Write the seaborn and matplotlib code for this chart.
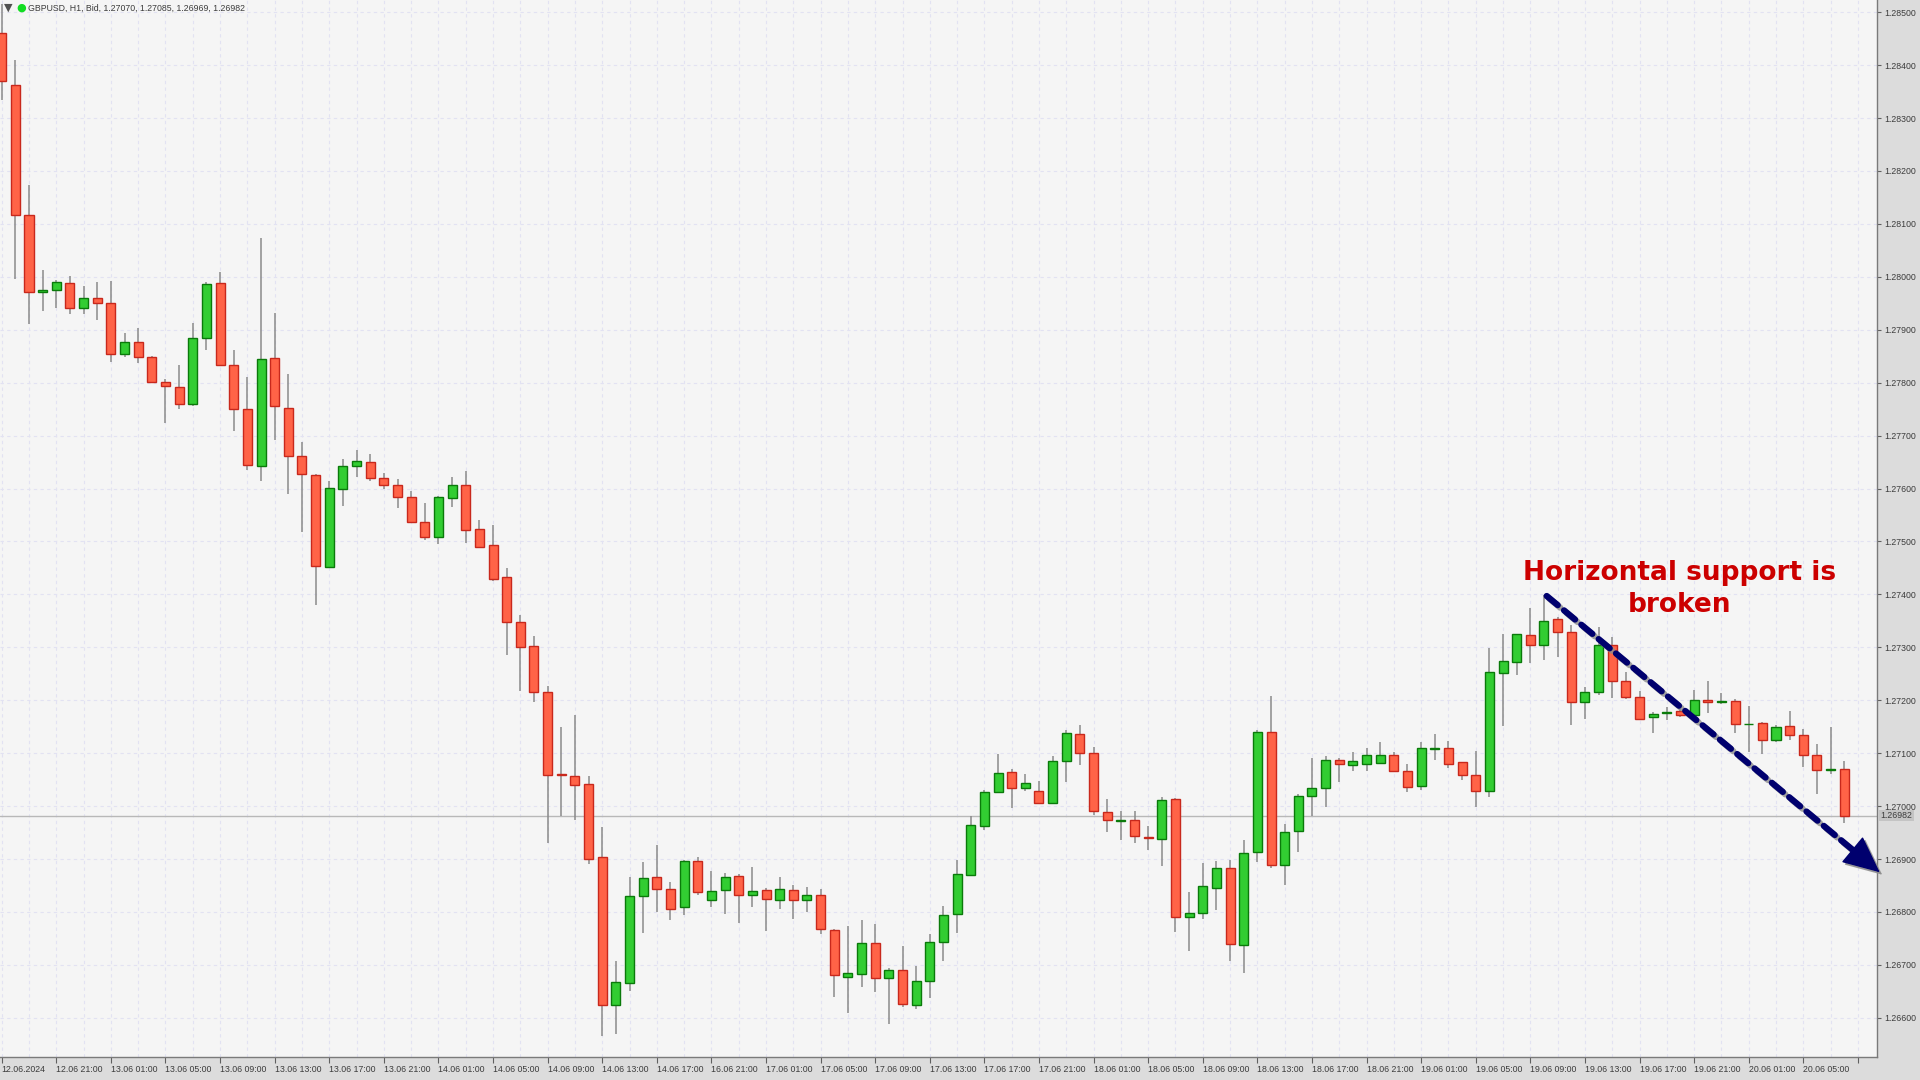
import numpy as np
import pandas as pd
import seaborn as sns
import matplotlib.pyplot as plt
from matplotlib import transforms
from matplotlib.ticker import FixedLocator, MultipleLocator


# hourly GBPUSD bars
open_ = [1.28460, 1.28363, 1.28117, 1.27971, 1.27975, 1.27988, 1.27942, 1.27960, 1.27950, 1.27854,
         1.27876, 1.27849, 1.27802, 1.27791, 1.27760, 1.27884, 1.27988, 1.27834, 1.27751, 1.27642,
         1.27846, 1.27753, 1.27662, 1.27626, 1.27452, 1.27599, 1.27643, 1.27650, 1.27619, 1.27606,
         1.27584, 1.27536, 1.27509, 1.27582, 1.27607, 1.27524, 1.27493, 1.27433, 1.27348, 1.27302,
         1.27216, 1.27060, 1.27057, 1.27042, 1.26904, 1.26625, 1.26666, 1.26830, 1.26866, 1.26844,
         1.26810, 1.26896, 1.26822, 1.26841, 1.26868, 1.26832, 1.26842, 1.26822, 1.26842, 1.26822,
         1.26832, 1.26766, 1.26678, 1.26682, 1.26742, 1.26675, 1.26691, 1.26625, 1.26670, 1.26744,
         1.26796, 1.26870, 1.26962, 1.27026, 1.27064, 1.27034, 1.27029, 1.27005, 1.27086, 1.27136,
         1.27100, 1.26988, 1.26972, 1.26973, 1.26941, 1.26938, 1.27014, 1.26791, 1.26799, 1.26846,
         1.26883, 1.26738, 1.26913, 1.27140, 1.26889, 1.26953, 1.27020, 1.27034, 1.27088, 1.27078,
         1.27080, 1.27082, 1.27097, 1.27066, 1.27038, 1.27108, 1.27110, 1.27083, 1.27059, 1.27028,
         1.27251, 1.27273, 1.27324, 1.27305, 1.27354, 1.27329, 1.27197, 1.27216, 1.27304, 1.27236,
         1.27206, 1.27168, 1.27176, 1.27179, 1.27172, 1.27200, 1.27197, 1.27199, 1.27155, 1.27157,
         1.27124, 1.27152, 1.27134, 1.27096, 1.27068, 1.27070]
high = [1.28515, 1.28409, 1.28174, 1.28013, 1.27994, 1.28001, 1.27983, 1.27990, 1.27992, 1.27893,
        1.27903, 1.27851, 1.27807, 1.27833, 1.27913, 1.27991, 1.28009, 1.27861, 1.27811, 1.28074,
        1.27931, 1.27816, 1.27687, 1.27627, 1.27614, 1.27656, 1.27672, 1.27665, 1.27630, 1.27618,
        1.27596, 1.27572, 1.27586, 1.27621, 1.27634, 1.27541, 1.27531, 1.27449, 1.27361, 1.27322,
        1.27227, 1.27150, 1.27173, 1.27056, 1.26961, 1.26707, 1.26867, 1.26895, 1.26927, 1.26856,
        1.26899, 1.26904, 1.26877, 1.26873, 1.26872, 1.26885, 1.26846, 1.26867, 1.26851, 1.26847,
        1.26843, 1.26767, 1.26773, 1.26785, 1.26777, 1.26694, 1.26736, 1.26698, 1.26758, 1.26812,
        1.26899, 1.26981, 1.27031, 1.27099, 1.27070, 1.27061, 1.27047, 1.27095, 1.27143, 1.27153,
        1.27112, 1.27014, 1.26990, 1.26990, 1.26963, 1.27018, 1.27016, 1.26837, 1.26892, 1.26897,
        1.26898, 1.26936, 1.27144, 1.27208, 1.26966, 1.27023, 1.27090, 1.27095, 1.27091, 1.27103,
        1.27110, 1.27121, 1.27102, 1.27080, 1.27121, 1.27136, 1.27123, 1.27084, 1.27105, 1.27299,
        1.27326, 1.27326, 1.27374, 1.27398, 1.27357, 1.27342, 1.27225, 1.27339, 1.27320, 1.27254,
        1.27218, 1.27177, 1.27187, 1.27184, 1.27219, 1.27236, 1.27214, 1.27203, 1.27190, 1.27159,
        1.27154, 1.27179, 1.27146, 1.27117, 1.27150, 1.27085]
low = [1.28334, 1.27996, 1.27910, 1.27936, 1.27941, 1.27929, 1.27930, 1.27919, 1.27840, 1.27849,
       1.27838, 1.27800, 1.27723, 1.27750, 1.27756, 1.27861, 1.27833, 1.27709, 1.27635, 1.27615,
       1.27691, 1.27589, 1.27517, 1.27380, 1.27452, 1.27567, 1.27621, 1.27615, 1.27599, 1.27564,
       1.27534, 1.27503, 1.27495, 1.27565, 1.27498, 1.27488, 1.27425, 1.27286, 1.27217, 1.27197,
       1.26930, 1.26982, 1.26974, 1.26890, 1.26566, 1.26570, 1.26650, 1.26761, 1.26800, 1.26784,
       1.26794, 1.26832, 1.26809, 1.26796, 1.26780, 1.26809, 1.26764, 1.26805, 1.26787, 1.26800,
       1.26759, 1.26640, 1.26610, 1.26658, 1.26648, 1.26588, 1.26621, 1.26616, 1.26638, 1.26708,
       1.26760, 1.26870, 1.26954, 1.27026, 1.26996, 1.27028, 1.27004, 1.27004, 1.27045, 1.27077,
       1.26984, 1.26952, 1.26936, 1.26930, 1.26918, 1.26886, 1.26763, 1.26727, 1.26787, 1.26803,
       1.26708, 1.26684, 1.26894, 1.26883, 1.26851, 1.26914, 1.26981, 1.26999, 1.27045, 1.27066,
       1.27066, 1.27082, 1.27064, 1.27026, 1.27030, 1.27087, 1.27072, 1.27049, 1.26998, 1.27018,
       1.27151, 1.27247, 1.27271, 1.27277, 1.27282, 1.27154, 1.27165, 1.27209, 1.27205, 1.27202,
       1.27162, 1.27138, 1.27162, 1.27168, 1.27168, 1.27175, 1.27192, 1.27138, 1.27103, 1.27098,
       1.27121, 1.27124, 1.27074, 1.27023, 1.27060, 1.26969]
close = [1.28370, 1.28117, 1.27971, 1.27976, 1.27990, 1.27942, 1.27960, 1.27951, 1.27854, 1.27876,
         1.27848, 1.27802, 1.27793, 1.27760, 1.27884, 1.27986, 1.27834, 1.27750, 1.27644, 1.27844,
         1.27755, 1.27662, 1.27628, 1.27454, 1.27601, 1.27643, 1.27652, 1.27619, 1.27607, 1.27584,
         1.27536, 1.27509, 1.27584, 1.27607, 1.27522, 1.27490, 1.27430, 1.27347, 1.27301, 1.27216,
         1.27059, 1.27059, 1.27039, 1.26901, 1.26625, 1.26668, 1.26830, 1.26865, 1.26844, 1.26806,
         1.26896, 1.26838, 1.26839, 1.26866, 1.26832, 1.26840, 1.26824, 1.26844, 1.26822, 1.26832,
         1.26768, 1.26680, 1.26685, 1.26742, 1.26675, 1.26690, 1.26627, 1.26670, 1.26743, 1.26795,
         1.26871, 1.26965, 1.27026, 1.27062, 1.27034, 1.27044, 1.27005, 1.27085, 1.27139, 1.27100,
         1.26990, 1.26974, 1.26973, 1.26943, 1.26940, 1.27012, 1.26791, 1.26799, 1.26849, 1.26884,
         1.26739, 1.26911, 1.27140, 1.26888, 1.26951, 1.27020, 1.27035, 1.27088, 1.27080, 1.27085,
         1.27097, 1.27097, 1.27066, 1.27036, 1.27109, 1.27110, 1.27080, 1.27058, 1.27028, 1.27254,
         1.27274, 1.27325, 1.27305, 1.27350, 1.27329, 1.27196, 1.27216, 1.27304, 1.27236, 1.27206,
         1.27165, 1.27174, 1.27178, 1.27173, 1.27201, 1.27196, 1.27199, 1.27155, 1.27156, 1.27124,
         1.27150, 1.27134, 1.27096, 1.27068, 1.27070, 1.26982]

tick_labels = ['12.06.2024', '12.06 21:00', '13.06 01:00', '13.06 05:00', '13.06 09:00', '13.06 13:00',
               '13.06 17:00', '13.06 21:00', '14.06 01:00', '14.06 05:00', '14.06 09:00', '14.06 13:00',
               '14.06 17:00', '16.06 21:00', '17.06 01:00', '17.06 05:00', '17.06 09:00', '17.06 13:00',
               '17.06 17:00', '17.06 21:00', '18.06 01:00', '18.06 05:00', '18.06 09:00', '18.06 13:00',
               '18.06 17:00', '18.06 21:00', '19.06 01:00', '19.06 05:00', '19.06 09:00', '19.06 13:00',
               '19.06 17:00', '19.06 21:00', '20.06 01:00', '20.06 05:00', '']
price_levels = [1.266, 1.267, 1.268, 1.269, 1.270, 1.271, 1.272, 1.273, 1.274, 1.275,
                1.276, 1.277, 1.278, 1.279, 1.280, 1.281, 1.282, 1.283, 1.284, 1.285]
header_text = 'GBPUSD, H1, Bid, 1.27070, 1.27085, 1.26969, 1.26982'
last_price = 1.26982
note_text = 'Horizontal support is\nbroken'
note_pos = (122.95, 1.27410)
arrow_start = (113.2, 1.27397)
arrow_end = (137.6, 1.26875)


# figure style
sns.set_theme(style='white')
plt.rcParams['font.family'] = ['Liberation Sans', 'DejaVu Sans']
plt.rcParams['axes.linewidth'] = 1.0

df = pd.DataFrame({'open': open_, 'high': high, 'low': low, 'close': close})
df['bar'] = np.arange(len(df))
df['bull'] = df['close'] >= df['open']
df['bottom'] = df[['open', 'close']].min(axis=1)
df['body'] = (df['close'] - df['open']).abs()

fig = plt.figure(figsize=(19.2, 10.8), dpi=100, facecolor='#dcdcdc')
ax = fig.add_axes([0, 23 / 1080, 1877 / 1920, 1057 / 1080])
ax.set_facecolor('#f5f5f5')

# wicks then bodies
ax.vlines(df['bar'], df['low'], df['high'], color='#8a8a8a', lw=1.1, zorder=2)
up = df[df['bull']]
down = df[~df['bull']]
ax.bar(up['bar'], up['body'], bottom=up['bottom'], width=0.66, color='#32cd32',
       edgecolor='#0a7a0a', lw=1.0, zorder=3)
ax.bar(down['bar'], down['body'], bottom=down['bottom'], width=0.66, color='#ff6347',
       edgecolor='#c8281c', lw=1.0, zorder=3)

ax.set_xlim(-0.125, 137.4)
ax.set_ylim(1.26526, 1.28523)

# axes, ticks and grid
ax.xaxis.set_major_locator(FixedLocator(np.arange(0, 137, 4)))
ax.xaxis.set_minor_locator(MultipleLocator(2))
ax.set_xticklabels(tick_labels)
for lbl in ax.get_xticklabels():
    lbl.set_ha('left')
ax.yaxis.tick_right()
ax.set_yticks(price_levels)
ax.set_yticklabels(['{:.5f}'.format(p) for p in price_levels])
ax.tick_params(axis='x', which='major', direction='out', length=4, width=0.8, color='#606060',
               labelsize=6.3, labelcolor='#3c3c3c', pad=2, bottom=True)
ax.tick_params(axis='x', which='minor', length=0)
ax.tick_params(axis='y', direction='out', length=3, width=0.8, color='#606060',
               labelsize=6.3, labelcolor='#3c3c3c', pad=2, right=True)
ax.grid(True, which='both', axis='x', linestyle=(0, (3, 3)), color='#e2e2f2', lw=0.8)
ax.grid(True, which='major', axis='y', linestyle=(0, (3, 3)), color='#e2e2f2', lw=0.8)
ax.set_axisbelow(True)
for side in ['left', 'top']:
    ax.spines[side].set_visible(False)
for side in ['right', 'bottom']:
    ax.spines[side].set_color('#7a7a7a')

# last price line and label
ax.axhline(last_price, color='#b8b8b8', lw=1.0, zorder=1)
ax.text(1.002, last_price, '{:.5f}'.format(last_price),
        transform=transforms.blended_transform_factory(ax.transAxes, ax.transData),
        ha='left', va='center', fontsize=6.3, color='#3c3c3c', clip_on=False,
        bbox=dict(boxstyle='square,pad=0.15', fc='#c4c4c4', ec='none'))

# header
fig.text(4 / 1920, 1 - 8 / 1080, '\u25bc', fontsize=8, color='#505050', va='center', ha='left',
         family='DejaVu Sans')
fig.text(16 / 1920, 1 - 8 / 1080, '\u25cf', fontsize=8, color='#11dd22', va='center', ha='left',
         family='DejaVu Sans')
fig.text(28 / 1920, 1 - 8 / 1080, header_text, fontsize=6.3, color='#3c3c3c', va='center', ha='left')

# annotation text
ax.text(note_pos[0], note_pos[1], note_text, ha='center', va='center', multialignment='center',
        fontsize=19, fontweight='bold', color='#cc0000', family='DejaVu Sans', linespacing=1.3,
        zorder=6)


# dashed shaft plus a solid head, drawn once as a grey shadow and once in navy
def draw_arrow(trans, color, alpha, z):
    ax.annotate('', xy=arrow_end, xytext=arrow_start, xycoords=trans, textcoords=trans,
                annotation_clip=False, zorder=z,
                arrowprops=dict(arrowstyle='-', color=color, alpha=alpha, lw=4.5,
                                linestyle=(0, (2.3, 1.3)), shrinkA=0, shrinkB=22))
    head_from = (arrow_end[0] - 0.06 * (arrow_end[0] - arrow_start[0]),
                 arrow_end[1] - 0.06 * (arrow_end[1] - arrow_start[1]))
    ax.annotate('', xy=arrow_end, xytext=head_from, xycoords=trans, textcoords=trans,
                annotation_clip=False, zorder=z,
                arrowprops=dict(arrowstyle='-|>,head_length=1.2,head_width=0.55', color=color,
                                alpha=alpha, lw=1.0, shrinkA=0, shrinkB=0, mutation_scale=20))


shadow = transforms.offset_copy(ax.transData, fig=fig, x=2.5, y=-2.5, units='dots')
draw_arrow(shadow, '#8c8c8c', 0.8, 5)
draw_arrow(ax.transData, '#00006e', 1.0, 6)

fig.savefig('out.png', dpi=100, facecolor=fig.get_facecolor())
